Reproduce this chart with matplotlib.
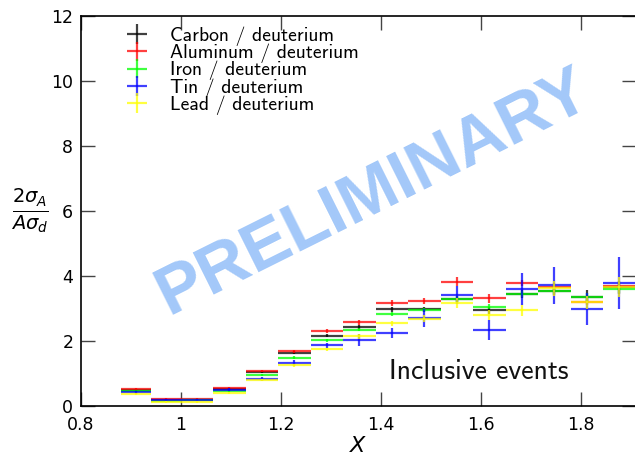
import matplotlib
matplotlib.use("Agg")
import matplotlib.pyplot as plt
import numpy as np

# ---- data ----
x_lo = [0.88, 0.94, 1.000, 1.065, 1.130, 1.195, 1.260, 1.325, 1.390, 1.455, 1.520, 1.585, 1.650, 1.715, 1.780, 1.845]
x_hi = [0.94, 1.00, 1.065, 1.130, 1.195, 1.260, 1.325, 1.390, 1.455, 1.520, 1.585, 1.650, 1.715, 1.780, 1.845, 1.910]

carbon   = [0.49, 0.185, 0.20, 0.52, 1.05, 1.64, 2.16, 2.44, 2.97, 2.97, 3.30, 2.94, 3.44, 3.53, 3.36, 3.65]
carbon_e = [0.03, 0.02, 0.02, 0.03, 0.04, 0.05, 0.05, 0.06, 0.07, 0.08, 0.10, 0.10, 0.12, 0.12, 0.20, 0.20]
alum     = [0.51, 0.225, 0.22, 0.56, 1.08, 1.68, 2.31, 2.57, 3.18, 3.23, 3.83, 3.31, 3.79, 3.66, 3.20, 3.70]
alum_e   = [0.03, 0.02, 0.02, 0.03, 0.04, 0.05, 0.06, 0.08, 0.09, 0.10, 0.13, 0.15, 0.10, 0.12, 0.10, 0.12]
iron     = [0.45, 0.165, 0.17, 0.46, 0.94, 1.49, 2.02, 2.35, 2.84, 2.95, 3.29, 3.06, 3.44, 3.54, 3.36, 3.61]
iron_e   = [0.02, 0.02, 0.02, 0.03, 0.03, 0.04, 0.04, 0.05, 0.06, 0.07, 0.08, 0.09, 0.10, 0.10, 0.12, 0.12]
tin      = [0.42, 0.195, 0.19, 0.50, 0.82, 1.33, 1.87, 2.03, 2.25, 2.72, 3.42, 2.34, 3.60, 3.72, 2.98, 3.80]
tin_e    = [0.04, 0.03, 0.03, 0.05, 0.06, 0.09, 0.08, 0.18, 0.15, 0.28, 0.28, 0.30, 0.49, 0.57, 0.50, 0.80]
lead     = [0.37, 0.12, 0.12, 0.39, 0.80, 1.25, 1.74, 2.14, 2.54, 2.69, 3.16, 2.79, 2.94, 3.63, 3.20, 3.66]
lead_e   = [0.03, 0.02, 0.02, 0.03, 0.04, 0.05, 0.06, 0.07, 0.08, 0.10, 0.15, 0.15, 0.17, 0.23, 0.20, 0.30]

labels = ["Carbon / deuterium", "Aluminum / deuterium", "Iron / deuterium",
          "Tin / deuterium", "Lead / deuterium"]
colors = ["#000000", "#ff0000", "#00ff00", "#0000ff", "#ffff00"]
xticks = [0.8, 1.0, 1.2, 1.4, 1.6, 1.8]
xticklabels = ["0.8", "1", "1.2", "1.4", "1.6", "1.8"]
yticks = [0, 2, 4, 6, 8, 10, 12]

# ---- figure ----
fig = plt.figure(figsize=(6.35, 4.55), dpi=100)
W, H = 635, 455
ax = fig.add_axes([80.7 / W, 49 / H, (636.3 - 80.7) / W, 390 / H])

xl = np.array(x_lo)
xh = np.array(x_hi)
xc = (xl + xh) / 2
xe = (xh - xl) / 2

series = [carbon, alum, iron, tin, lead]
errs = [carbon_e, alum_e, iron_e, tin_e, lead_e]
handles = []
for vals, e, c, lab in zip(series, errs, colors, labels):
    h = ax.errorbar(xc, vals, xerr=xe, yerr=e, fmt='none', ecolor=c,
                    elinewidth=1.6, alpha=0.75, capsize=0, label=lab, zorder=3)
    handles.append(h)

ax.set_xlim(0.8, 0.8 + (636.3 - 80.7) / 500)
ax.set_ylim(0, 12)
ax.set_xticks(xticks)
ax.set_xticklabels(xticklabels)
ax.set_yticks(yticks)
ax.tick_params(direction='in', length=10, width=1.0, color='#444444',
               top=True, right=True, labelsize=12.5)
ax.tick_params(axis='x', pad=7.5)
ax.tick_params(axis='y', pad=5.3)
for s in ax.spines.values():
    s.set_linewidth(1.2)

ax.set_xlabel(r"$X$", fontsize=16)
ax.xaxis.set_label_coords(0.5, -0.077)
ax.set_ylabel(r"$\frac{2\sigma_A}{A\sigma_d}$", fontsize=20, rotation=0,
              ha='center', va='center')
ax.yaxis.set_label_coords(-0.091, 0.5)

# watermark
ax.text(1.3846, 6.55, "PRELIMINARY", rotation=26.5, rotation_mode='anchor',
        ha='center', va='center', fontsize=50, fontweight='bold',
        family='Liberation Sans', color='#a3c8f9', zorder=1)

ax.text(1.417, 0.82, "Inclusive events", family='cmss10', fontsize=20,
        ha='left', va='baseline', color='#111111')

leg = ax.legend(handles=handles, loc='upper left', bbox_to_anchor=(0.058, 1.008),
                frameon=False, prop={'family': 'cmss10', 'size': 14.2},
                handlelength=1.05, handletextpad=1.15, labelspacing=-0.12,
                borderpad=0.2)

fig.savefig("out.png", dpi=100)
